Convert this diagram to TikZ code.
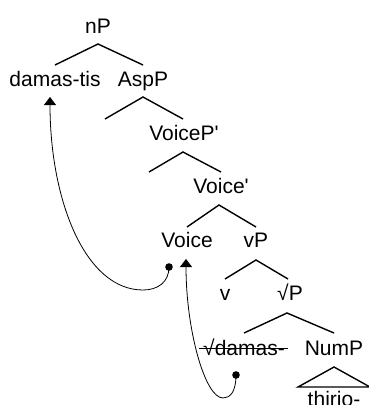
\documentclass[tikz,border=0pt]{standalone}
\usepackage{fontspec}
\setmainfont{Liberation Sans}
\usetikzlibrary{arrows.meta}
\newcommand{\sq}{{\XeTeXglyph\XeTeXcharglyph"27\relax}}
\begin{document}
\begin{tikzpicture}[x=1pt,y=-1pt,
  lab/.style={inner sep=0pt,anchor=base,font=\fontsize{21}{24}\selectfont},
  branch/.style={line width=1.4pt},
  mv/.style={line width=0.8pt,-{Triangle[width=12pt,length=8pt]}},
  dotmark/.style={fill=black,draw=none}]
\useasboundingbox (0,0) rectangle (369,405);
% labels
\node[lab] (nP) at (98,33) {nP};
\node[lab] (damas) at (55,86) {damas-tis};
\node[lab] (AspP) at (143,86) {AspP};
\node[lab] (VoicePp) at (184,140) {VoiceP\sq};
\node[lab] (Voicep) at (221,193) {Voice\sq};
\node[lab] (Voice) at (187,247) {Voice};
\node[lab] (vP) at (256,247) {vP};
\node[lab] (v) at (225,300) {v};
\node[lab] (rootP) at (290,300) {√P};
\node[lab] (rootdamas) at (244,355) {√damas-};
\node[lab] (NumP) at (334,355) {NumP};
\node[lab] (thirio) at (334,406) {thirio-};
% empty left daughters
\coordinate (AspL) at (105,119);
\coordinate (VPL) at (149,172);
% branches
\draw[branch] ([yshift=21pt]damas.base) -- ([yshift=-11pt]nP.base) -- ([yshift=21pt]AspP.base);
\draw[branch] (AspL) -- ([yshift=-11pt]AspP.base) -- ([xshift=-1pt,yshift=21pt]VoicePp.base);
\draw[branch] (VPL) -- ([xshift=-1pt,yshift=-12pt]VoicePp.base) -- ([yshift=21pt]Voicep.base);
\draw[branch] ([yshift=20pt]Voice.base) -- ([xshift=-2pt,yshift=-12pt]Voicep.base) -- ([yshift=20pt]vP.base);
\draw[branch] ([yshift=21pt]v.base) -- ([yshift=-13pt]vP.base) -- ([xshift=-2pt,yshift=21pt]rootP.base);
\draw[branch] ([yshift=22pt]rootdamas.base) -- ([xshift=-3pt,yshift=-13pt]rootP.base) -- ([yshift=22pt]NumP.base);
\draw[branch] ([yshift=-12pt]NumP.base) -- ([xshift=-36pt,yshift=19pt]thirio.base) -- ([xshift=36pt,yshift=19pt]thirio.base) -- cycle;
% strike-through
\draw[line width=1pt] ([xshift=-4pt,yshift=7pt]rootdamas.base west) -- ([xshift=3pt,yshift=7pt]rootdamas.base east);
% movement arrows
\coordinate (d1) at (169,267);
\coordinate (d2) at (236,375);
\coordinate (t1) at ([yshift=-11pt]damas.base);
\coordinate (t2) at ([yshift=-12pt]Voice.base);
\fill[dotmark] (d1) circle (3.8pt);
\fill[dotmark] (d2) circle (3.8pt);
\draw[mv] (d1) .. controls (169,282) and (158,290) .. (143,290)
  .. controls (85,290) and (50,200) .. (t1 -| 50,0);
\draw[mv] (d2) .. controls (236,392) and (230,398) .. (223,398)
  .. controls (205,398) and (186,330) .. (t2 -| 186,0);
\end{tikzpicture}
\end{document}
